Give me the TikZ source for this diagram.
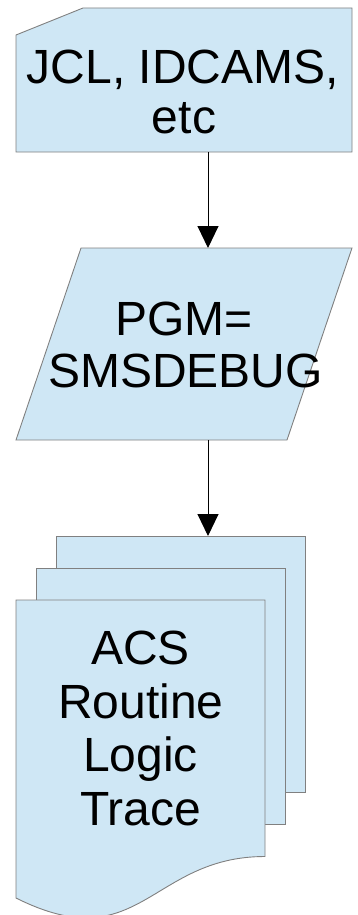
\documentclass[tikz,border=0pt]{standalone}
\usepackage{fontspec}
\setmainfont{Liberation Sans}
\usetikzlibrary{arrows.meta}
\definecolor{shapefill}{RGB}{207,231,245}
\definecolor{shapeline}{RGB}{128,128,128}
\tikzset{
  shapebox/.style={fill=shapefill, draw=shapeline, line width=0.9pt, line join=miter},
  label/.style={font=\fontsize{48}{54}\selectfont, inner sep=0pt, anchor=base, text=black},
  conn/.style={draw=black, line width=1pt, -{Triangle[length=22pt,width=21pt]}}
}
\begin{document}
\begin{tikzpicture}[x=1pt,y=-1pt]
\useasboundingbox (0,0) rectangle (357,915);
% card shape
\draw[shapebox] (83,8) -- (352,8) -- (352,152) -- (16,152) -- (16,35) -- cycle;
\coordinate (cardbot) at (208,152);
\node[label] (cardA) at (183,83.5) {JCL, IDCAMS,};
\node[label] (cardB) at (184,134) {etc};
% parallelogram
\draw[shapebox] (81,248) -- (352,248) -- (287,440) -- (16,440) -- cycle;
\coordinate (pgtop) at (208,248);
\coordinate (pgbot) at (208,440);
\node[label] (pgA) at (184,335) {PGM=};
\node[label] (pgB) at (185.5,387.5) {SMSDEBUG};
% documents
\draw[shapebox] (56,536) rectangle (305,792);
\draw[shapebox] (36,568) rectangle (285,824);
\draw[shapebox] (16,600) -- (265,600) -- (265,856.5) .. controls (150,856.5) and (140,960) .. (16,898) -- cycle;
\coordinate (doctop) at (208,536);
\node[label] (docA) at (140.5,664) {ACS};
\node[label] (docB) at (141,718) {Routine};
\node[label] (docC) at (140.5,771.5) {Logic};
\node[label] (docD) at (140.5,825) {Trace};
% connectors
\draw[conn] (cardbot) -- (pgtop);
\draw[conn] (pgbot) -- (doctop);
\end{tikzpicture}
\end{document}
